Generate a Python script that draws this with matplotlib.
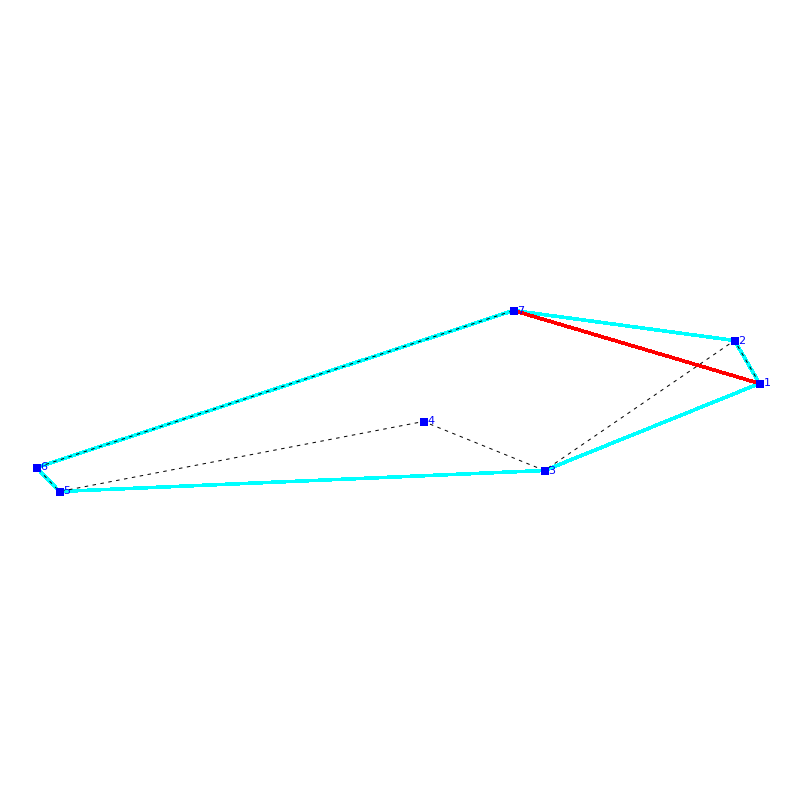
import matplotlib
matplotlib.use("Agg")
import matplotlib.pyplot as plt

# ---- Data (pixel coordinates) ----
labels = ["1", "2", "3", "4", "5", "6", "7"]
xs = [759.5, 734.5, 544.5, 423.5, 59.5, 36.5, 513.5]
ys = [383.5, 340.5, 470.5, 421.5, 491.5, 467.5, 310.5]

# order of the points along each path
hull_order = [6, 1, 0, 2, 4, 5, 6]
tour_order = [0, 1, 2, 3, 4, 5, 6]
closing_order = [6, 0]

plt.rcParams["lines.scale_dashes"] = False
PX = 72 / 100  # one pixel in points

fig = plt.figure(figsize=(8, 8), dpi=100)
ax = fig.add_axes([0, 0, 1, 1])
ax.set_xlim(0, 800)
ax.set_ylim(800, 0)
ax.axis("off")

# outer boundary
ax.plot([xs[i] for i in hull_order], [ys[i] for i in hull_order],
        color="#00ffff", lw=2.6 * PX, antialiased=False, zorder=1)

# dashed tour
ax.plot([xs[i] for i in tour_order], [ys[i] for i in tour_order],
        color="black", lw=1 * PX, dashes=(3.5 * PX, 4.5 * PX),
        dash_capstyle="butt", antialiased=True, zorder=2)

# closing edge
ax.plot([xs[i] for i in closing_order], [ys[i] for i in closing_order],
        color="#ff0000", lw=2.6 * PX, antialiased=False, zorder=3)

# points and labels
ax.scatter(xs, ys, marker="s", s=(8 * PX) ** 2, color="#0000ff",
           linewidths=0, zorder=4)
for x, y, label in zip(xs, ys, labels):
    ax.annotate(label, (x, y), xytext=(4 * PX, 0), textcoords="offset points",
                color="#0000ff", fontsize=8, va="center", ha="left", zorder=5)

fig.savefig("out.png", dpi=100, facecolor="white")
